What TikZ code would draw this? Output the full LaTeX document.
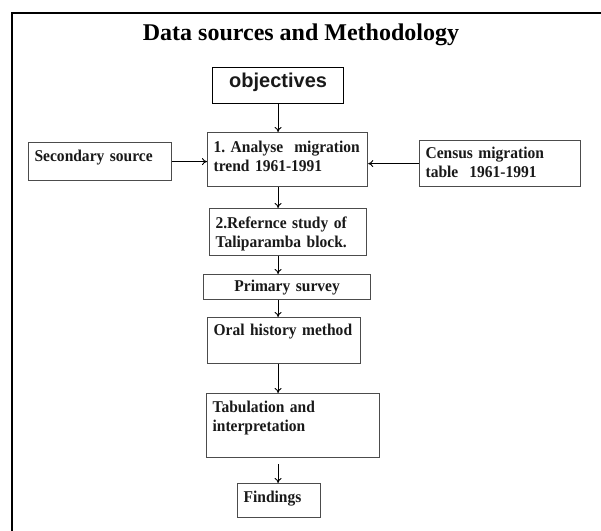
\documentclass[tikz,border=0pt]{standalone}
\usepackage{fontspec}
\setmainfont{Liberation Serif}
\newfontfamily\boxfont{Liberation Serif}[FakeStretch=0.94,WordSpace=0.8]
\newfontfamily\headfont{Liberation Sans}
\usetikzlibrary{arrows.meta}

\begin{document}
\frenchspacing
\hyphenpenalty=10000
\begin{tikzpicture}[x=1pt,y=-1pt,
    box/.style={draw=black!70, line width=1.2pt, anchor=north west,
      inner xsep=6pt, inner ysep=0pt, align=left, text=black!90,
      font=\boxfont\fontsize{16.5}{19}\selectfont\bfseries},
    flow/.style={-{To[length=5pt,width=7pt]}, line width=0.9pt}]
        \useasboundingbox (0,0) rectangle (601,530);
        % frame round the page
        \draw[line width=2pt] (11.7,540) -- (11.7,12.5) -- (620,12.5);
        \node[anchor=base, font=\fontsize{24}{28}\selectfont\bfseries] (title) at (301,40)
          {Data sources and Methodology};
        \node[box, draw=black, align=center, text width=119pt, text height=20pt, text depth=16pt,
          font=\headfont\fontsize{20}{24}\selectfont\bfseries] (obj) at (212,67) {objectives};
        \node[box, text width=148pt, text height=20pt, text depth=34pt] (trend) at (207,132)
          {1. Analyse\ \ migration\\trend 1961-1991};
        \node[box, text width=131pt, text height=19pt, text depth=19pt] (sec) at (28,142)
          {Secondary source};
        \node[box, text width=149pt, text height=18pt, text depth=28pt] (census) at (419,140)
          {Census migration\\table\ \ 1961-1991};
        \node[box, text width=145pt, text height=20pt, text depth=27pt] (ref) at (209,208)
          {2.Refernce study of\\Taliparamba block.};
        \node[box, align=center, text width=155pt, text height=17pt, text depth=8pt] (prim) at (203,274)
          {Primary survey};
        \node[box, text width=141pt, text height=18pt, text depth=28pt] (oral) at (207,317)
          {Oral history method};
        \node[box, text width=161pt, text height=19pt, text depth=45pt] (tab) at (206,393)
          {Tabulation and\\interpretation};
        \node[box, text width=71pt, text height=19pt, text depth=15pt] (find) at (237,483)
          {Findings};
        % connectors
        \draw[flow] (obj.south) -- (obj.south |- trend.north);
        \foreach \from/\to in {trend/ref, ref/prim, prim/oral, oral/tab} {
          \draw[flow] (\from.south -| obj.south) -- (\to.north -| obj.south);
        }
        \draw[flow] ([yshift=-6pt]tab.south -| obj.south) -- (find.north -| obj.south);
        \draw[flow] (sec.east) -- (sec.east -| trend.west);
        \draw[flow] (census.west) -- (census.west -| trend.east);
\end{tikzpicture}
\end{document}
